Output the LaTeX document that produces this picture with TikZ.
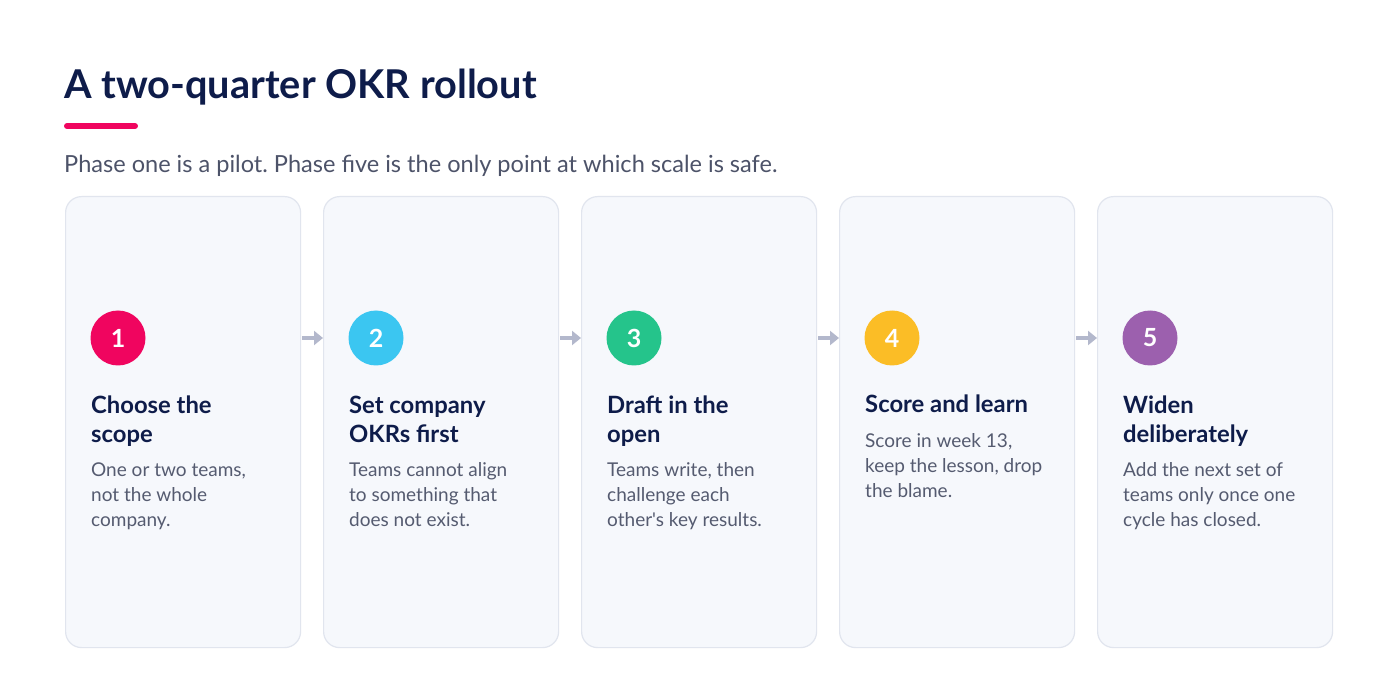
\documentclass[tikz,border=0pt]{standalone}
\usepackage{fontspec}
\setmainfont{Lato}[Ligatures=TeXOff]
\usetikzlibrary{arrows.meta}
\definecolor{navy}{HTML}{0E1C4A}
\definecolor{subgray}{HTML}{4D5369}
\definecolor{bodygray}{HTML}{555B70}
\definecolor{cardfill}{HTML}{F6F8FC}
\definecolor{cardline}{HTML}{E1E5EE}
\definecolor{accent}{HTML}{F0055F}
\definecolor{arrowc}{HTML}{B3B8CC}
\definecolor{cA}{HTML}{F0055F}
\definecolor{cB}{HTML}{3BC6F1}
\definecolor{cC}{HTML}{25C48B}
\definecolor{cD}{HTML}{FBBD26}
\definecolor{cE}{HTML}{9C60AE}
\tikzset{
  card/.style={draw=cardline, line width=1.2pt, fill=cardfill, rounded corners=16pt, minimum width=235pt, minimum height=451pt, anchor=north west, inner sep=0pt},
  badge/.style={circle, minimum size=55pt, inner sep=0pt, text=white, font=\fontsize{25}{25}\selectfont\bfseries},
  ctitle/.style={anchor=base west, inner sep=0pt, align=left, text=navy, font=\fontsize{23.8}{29.5}\selectfont\bfseries},
  cbody/.style={anchor=base west, inner sep=0pt, align=left, text=bodygray, font=\fontsize{19}{24.7}\selectfont},
  flow/.style={draw=arrowc, line width=3.5pt, -{Triangle[length=9pt,width=14pt]}, shorten <=1pt, shorten >=0pt}
}
\begin{document}
\frenchspacing
\begin{tikzpicture}[x=1pt,y=-1pt]
\useasboundingbox[fill=white] (0,0) rectangle (1400,700);
\node[anchor=base west, inner sep=0pt, text=navy, font=\fontsize{39.7}{44}\selectfont\bfseries] (title) at (64,99) {A two-quarter OKR rollout};
\coordinate (barA) at (67,126);
\coordinate (barB) at (135,126);
\draw[accent, line width=6pt, line cap=round] (barA) -- (barB);
\node[anchor=base west, inner sep=0pt, text=subgray, font=\fontsize{23.55}{25}\selectfont] (sub) at (64,173) {Phase one is a pilot. Phase five is the only point at which scale is safe.};

\foreach \i/\x/\col/\num in {1/65/cA/1, 2/323/cB/2, 3/581/cC/3, 4/839/cD/4, 5/1097/cE/5}{
  \node[card] (card\i) at (\x,196) {};
  \node[badge, fill=\col] (badge\i) at (\x+53,338) {\num};
}
\node[ctitle] (t1) at (91,442.5) {Choose the\\scope};
\node[cbody] (b1) at (91,526) {One or two teams,\\not the whole\\company.};
\node[ctitle] (t2) at (349,442.5) {Set company\\OKRs first};
\node[cbody] (b2) at (349,526) {Teams cannot align\\to something that\\does not exist.};
\node[ctitle] (t3) at (607,442.5) {Draft in the\\open};
\node[cbody] (b3) at (607,526) {Teams write, then\\challenge each\\other's key results.};
\node[ctitle] (t4) at (865,413) {Score and learn};
\node[cbody] (b4) at (865,497) {Score in week 13,\\keep the lesson, drop\\the blame.};
\node[ctitle] (t5) at (1123,442.5) {Widen\\deliberately};
\node[cbody] (b5) at (1123,526) {Add the next set of\\teams only once one\\cycle has closed.};

\foreach \a/\b in {1/2,2/3,3/4,4/5}{
  \draw[flow] (card\a.east |- badge\a) -- (card\b.west |- badge\b);
}
\end{tikzpicture}
\end{document}
